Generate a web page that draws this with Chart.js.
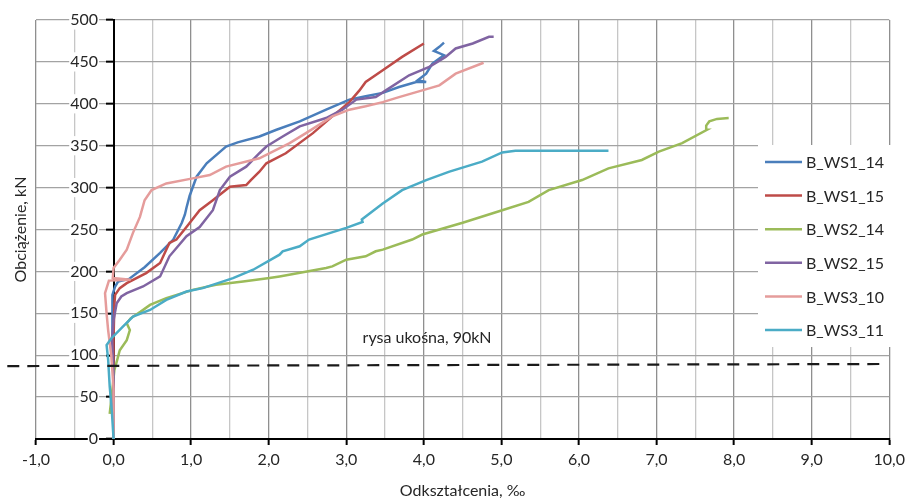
<!DOCTYPE html>
<html>
<head>
<meta charset="utf-8">
<script src="https://cdn.jsdelivr.net/npm/chart.js@4.4.1/dist/chart.umd.min.js"></script>
<style>
  body { margin: 0; background: #fff; }
  #wrap { width: 910px; height: 500px; }
</style>
</head>
<body>
<div id="wrap"><canvas id="chart"></canvas></div>
<script>
// serie pomiarowe: odkształcenie [‰] i obciążenie [kN]
const seriesNames = ['B_WS1_14', 'B_WS1_15', 'B_WS2_14', 'B_WS2_15', 'B_WS3_10', 'B_WS3_11'];

const ws1_14X = [0, 0, -0.01, -0.01, -0.02, 0.02, 0.06, 0.2, 0.4, 0.6, 0.77, 0.88, 0.92, 0.94, 0.98, 1.07, 1.2, 1.45, 1.6, 1.88, 2.1, 2.4, 2.74, 3.04, 3.25, 3.47, 3.68, 3.9, 4.03, 3.92, 4.03, 4.11, 4.2, 4.26, 4.13, 4.2, 4.26];
const ws1_14Y = [0, 60, 120, 160, 172, 182, 188, 191, 205, 222, 238, 258, 268, 276, 290, 313, 329, 349, 354, 361, 369, 379, 393, 405, 409, 413, 420, 426, 426, 428, 436, 448, 454, 458, 463, 468, 473];

const ws1_15X = [0, 0, 0, 0.01, 0.02, 0.08, 0.17, 0.42, 0.6, 0.72, 0.81, 0.94, 1.11, 1.28, 1.5, 1.71, 1.77, 1.88, 1.97, 2.22, 2.57, 2.82, 3.04, 3.17, 3.25, 3.47, 3.72, 4.0];
const ws1_15Y = [0, 70, 120, 160, 172, 180, 186, 198, 210, 234, 238, 253, 273, 285, 301, 303, 309, 319, 329, 341, 365, 385, 402, 416, 426, 440, 456, 472];

const ws2_14X = [-0.05, -0.02, 0.01, 0.04, 0.08, 0.17, 0.21, 0.17, 0.22, 0.35, 0.47, 0.68, 1.02, 1.32, 1.67, 2.01, 2.14, 2.74, 2.82, 3.0, 3.25, 3.38, 3.47, 3.85, 3.98, 4.5, 5.01, 5.35, 5.61, 6.04, 6.38, 6.81, 7.03, 7.33, 7.65, 7.64, 7.68, 7.78, 7.93];
const ws2_14Y = [30, 55, 82, 92, 106, 118, 130, 138, 144, 152, 160, 168, 178, 184, 188, 192, 194, 204, 206, 214, 218, 224, 226, 238, 244, 258, 273, 283, 297, 309, 323, 333, 343, 353, 369, 374, 379, 382, 383];

const ws2_15X = [0, 0, -0.02, 0, 0.04, 0.1, 0.17, 0.38, 0.6, 0.72, 0.94, 1.11, 1.28, 1.37, 1.5, 1.71, 1.88, 1.97, 2.18, 2.4, 2.74, 2.95, 3.13, 3.38, 3.51, 3.81, 4.07, 4.28, 4.41, 4.63, 4.84, 4.9];
const ws2_15Y = [0, 80, 120, 142, 162, 170, 174, 182, 194, 218, 242, 253, 273, 297, 313, 325, 341, 349, 361, 373, 383, 393, 405, 408, 416, 434, 444, 456, 466, 472, 480, 480];

const ws3_10X = [0, 0, -0.03, -0.07, -0.09, -0.11, -0.06, 0.22, -0.01, 0.0, 0.08, 0.17, 0.25, 0.34, 0.4, 0.49, 0.68, 1.02, 1.24, 1.45, 1.88, 2.27, 2.48, 2.82, 3.04, 3.25, 3.47, 3.68, 3.98, 4.2, 4.41, 4.77];
const ws3_10Y = [0, 60, 100, 130, 150, 174, 189, 190, 192, 204, 214, 226, 246, 265, 285, 297, 305, 311, 315, 325, 335, 353, 365, 385, 393, 397, 402, 408, 416, 422, 436, 449];

const ws3_11X = [0, -0.02, -0.05, -0.07, -0.09, -0.03, 0.12, 0.25, 0.47, 0.68, 0.94, 1.15, 1.54, 1.8, 2.14, 2.18, 2.4, 2.52, 3.0, 3.21, 3.2, 3.47, 3.72, 4.03, 4.33, 4.75, 5.01, 5.18, 6.38];
const ws3_11Y = [0, 30, 63, 95, 112, 120, 134, 146, 154, 166, 176, 180, 192, 202, 220, 224, 230, 238, 252, 259, 262, 281, 297, 309, 319, 331, 342, 344, 344];

// linia przerywana - rysa ukośna
const crackLabel = 'rysa ukośna, 90kN';
const crackX = [-1.37, 9.92];
const crackY = [87, 89.5];

const xTicks = [-1, 10];   // zakres osi X
const yTicks = [0, 500];   // zakres osi Y

const colors = ['#4A7EBB', '#BE4B48', '#9BBB59', '#8064A2', '#E59C9B', '#4BACC6'];

const xs = [ws1_14X, ws1_15X, ws2_14X, ws2_15X, ws3_10X, ws3_11X];
const ys = [ws1_14Y, ws1_15Y, ws2_14Y, ws2_15Y, ws3_10Y, ws3_11Y];

const toPoints = (xArr, yArr) => xArr.map((x, i) => ({x: x, y: yArr[i]}));

const datasets = seriesNames.map((name, i) => ({
    label: name,
    data: toPoints(xs[i], ys[i]),
    borderColor: colors[i],
    backgroundColor: colors[i],
    borderWidth: 2.5,
    pointRadius: 0,
    showLine: true,
    tension: 0,
    yAxisID: 'y',
    order: seriesNames.length - i + 1,
}));

datasets.push({
    label: crackLabel,
    data: toPoints(crackX, crackY),
    borderColor: '#1a1a1a',
    borderWidth: 2.2,
    borderDash: [12, 8],
    pointRadius: 0,
    showLine: true,
    clip: false,
    yAxisID: 'y',
    order: 0,
});

const textColor = '#262626';
Chart.defaults.font.family = 'Lato';
Chart.defaults.font.size = 16;
Chart.defaults.color = textColor;

const fmt = v => v.toFixed(1).replace('.', ',');
const isWhole = v => Math.abs(v % 1) < 1e-9;

// legenda i opis rysy w obszarze wykresu
const overlay = {
    id: 'overlay',
    afterDatasetsDraw(chart) {
        const ctx = chart.ctx;
        const {x, y} = chart.scales;
        ctx.save();
        ctx.font = '16px Lato';
        ctx.fillStyle = textColor;
        ctx.textBaseline = 'middle';
        ctx.textAlign = 'left';
        ctx.fillText(crackLabel, x.getPixelForValue(3.21), y.getPixelForValue(120.8));

        const lx = 758, ly = 145;
        ctx.fillStyle = '#fff';
        ctx.fillRect(lx, ly, 142, 202);
        seriesNames.forEach((name, i) => {
            const cy = ly + 17 + i * 33.6;
            ctx.strokeStyle = colors[i];
            ctx.lineWidth = 2.5;
            ctx.beginPath();
            ctx.moveTo(lx + 7, cy);
            ctx.lineTo(lx + 44, cy);
            ctx.stroke();
            ctx.fillStyle = textColor;
            ctx.fillText(name, lx + 48, cy + 1);
        });
        ctx.restore();
    }
};

new Chart(document.getElementById('chart'), {
    type: 'scatter',
    data: {datasets: datasets},
    plugins: [overlay],
    options: {
        responsive: true,
        maintainAspectRatio: false,
        animation: false,
        layout: {padding: {top: 20, right: 18, left: 0, bottom: 0}},
        plugins: {legend: {display: false}, tooltip: {enabled: false}},
        scales: {
            x: {
                type: 'linear',
                min: xTicks[0],
                max: xTicks[1],
                afterFit: s => { s.height = 61; },
                ticks: {
                    stepSize: 0.5,
                    autoSkip: false,
                    maxRotation: 0,
                    padding: 5,
                    callback: v => (isWhole(v) ? fmt(v) : ''),
                },
                grid: {
                    color: c => (isWhole(c.tick.value) ? '#8f8f8f' : '#c6c6c6'),
                    lineWidth: 1.3,
                    tickLength: 6,
                    tickColor: c => (isWhole(c.tick.value) ? '#000' : 'rgba(0,0,0,0)'),
                    tickWidth: 2,
                },
                border: {color: '#000', width: 2},
                title: {display: true, text: 'Odkształcenia, ‰', padding: 0, font: {size: 16}},
            },
            // oś Y przechodząca przez 0 (linie siatki i znaczniki)
            y: {
                type: 'linear',
                position: {x: 0},
                min: yTicks[0],
                max: yTicks[1],
                ticks: {stepSize: 50, display: false},
                grid: {color: '#a3a3a3', lineWidth: 1.3, tickLength: 7, tickColor: '#000', tickWidth: 2},
                border: {color: '#000', width: 2},
            },
            // opisy wartości osi Y
            yLabels: {
                type: 'linear',
                position: {x: -0.2},
                min: yTicks[0],
                max: yTicks[1],
                ticks: {
                    stepSize: 50,
                    z: 1,
                    showLabelBackdrop: true,
                    backdropColor: '#fff',
                    backdropPadding: {top: 0, bottom: 0, left: 1, right: 1},
                },
                grid: {drawOnChartArea: false, drawTicks: false},
                border: {display: false},
            },
            yTitle: {
                type: 'linear',
                position: 'left',
                min: yTicks[0],
                max: yTicks[1],
                afterFit: s => { s.width = 36; },
                ticks: {display: false},
                grid: {drawOnChartArea: false, drawTicks: false},
                border: {display: false},
                title: {display: true, text: 'Obciążenie, kN', padding: {top: 11, bottom: 0}, font: {size: 16}},
            },
        },
    },
});
</script>
</body>
</html>
